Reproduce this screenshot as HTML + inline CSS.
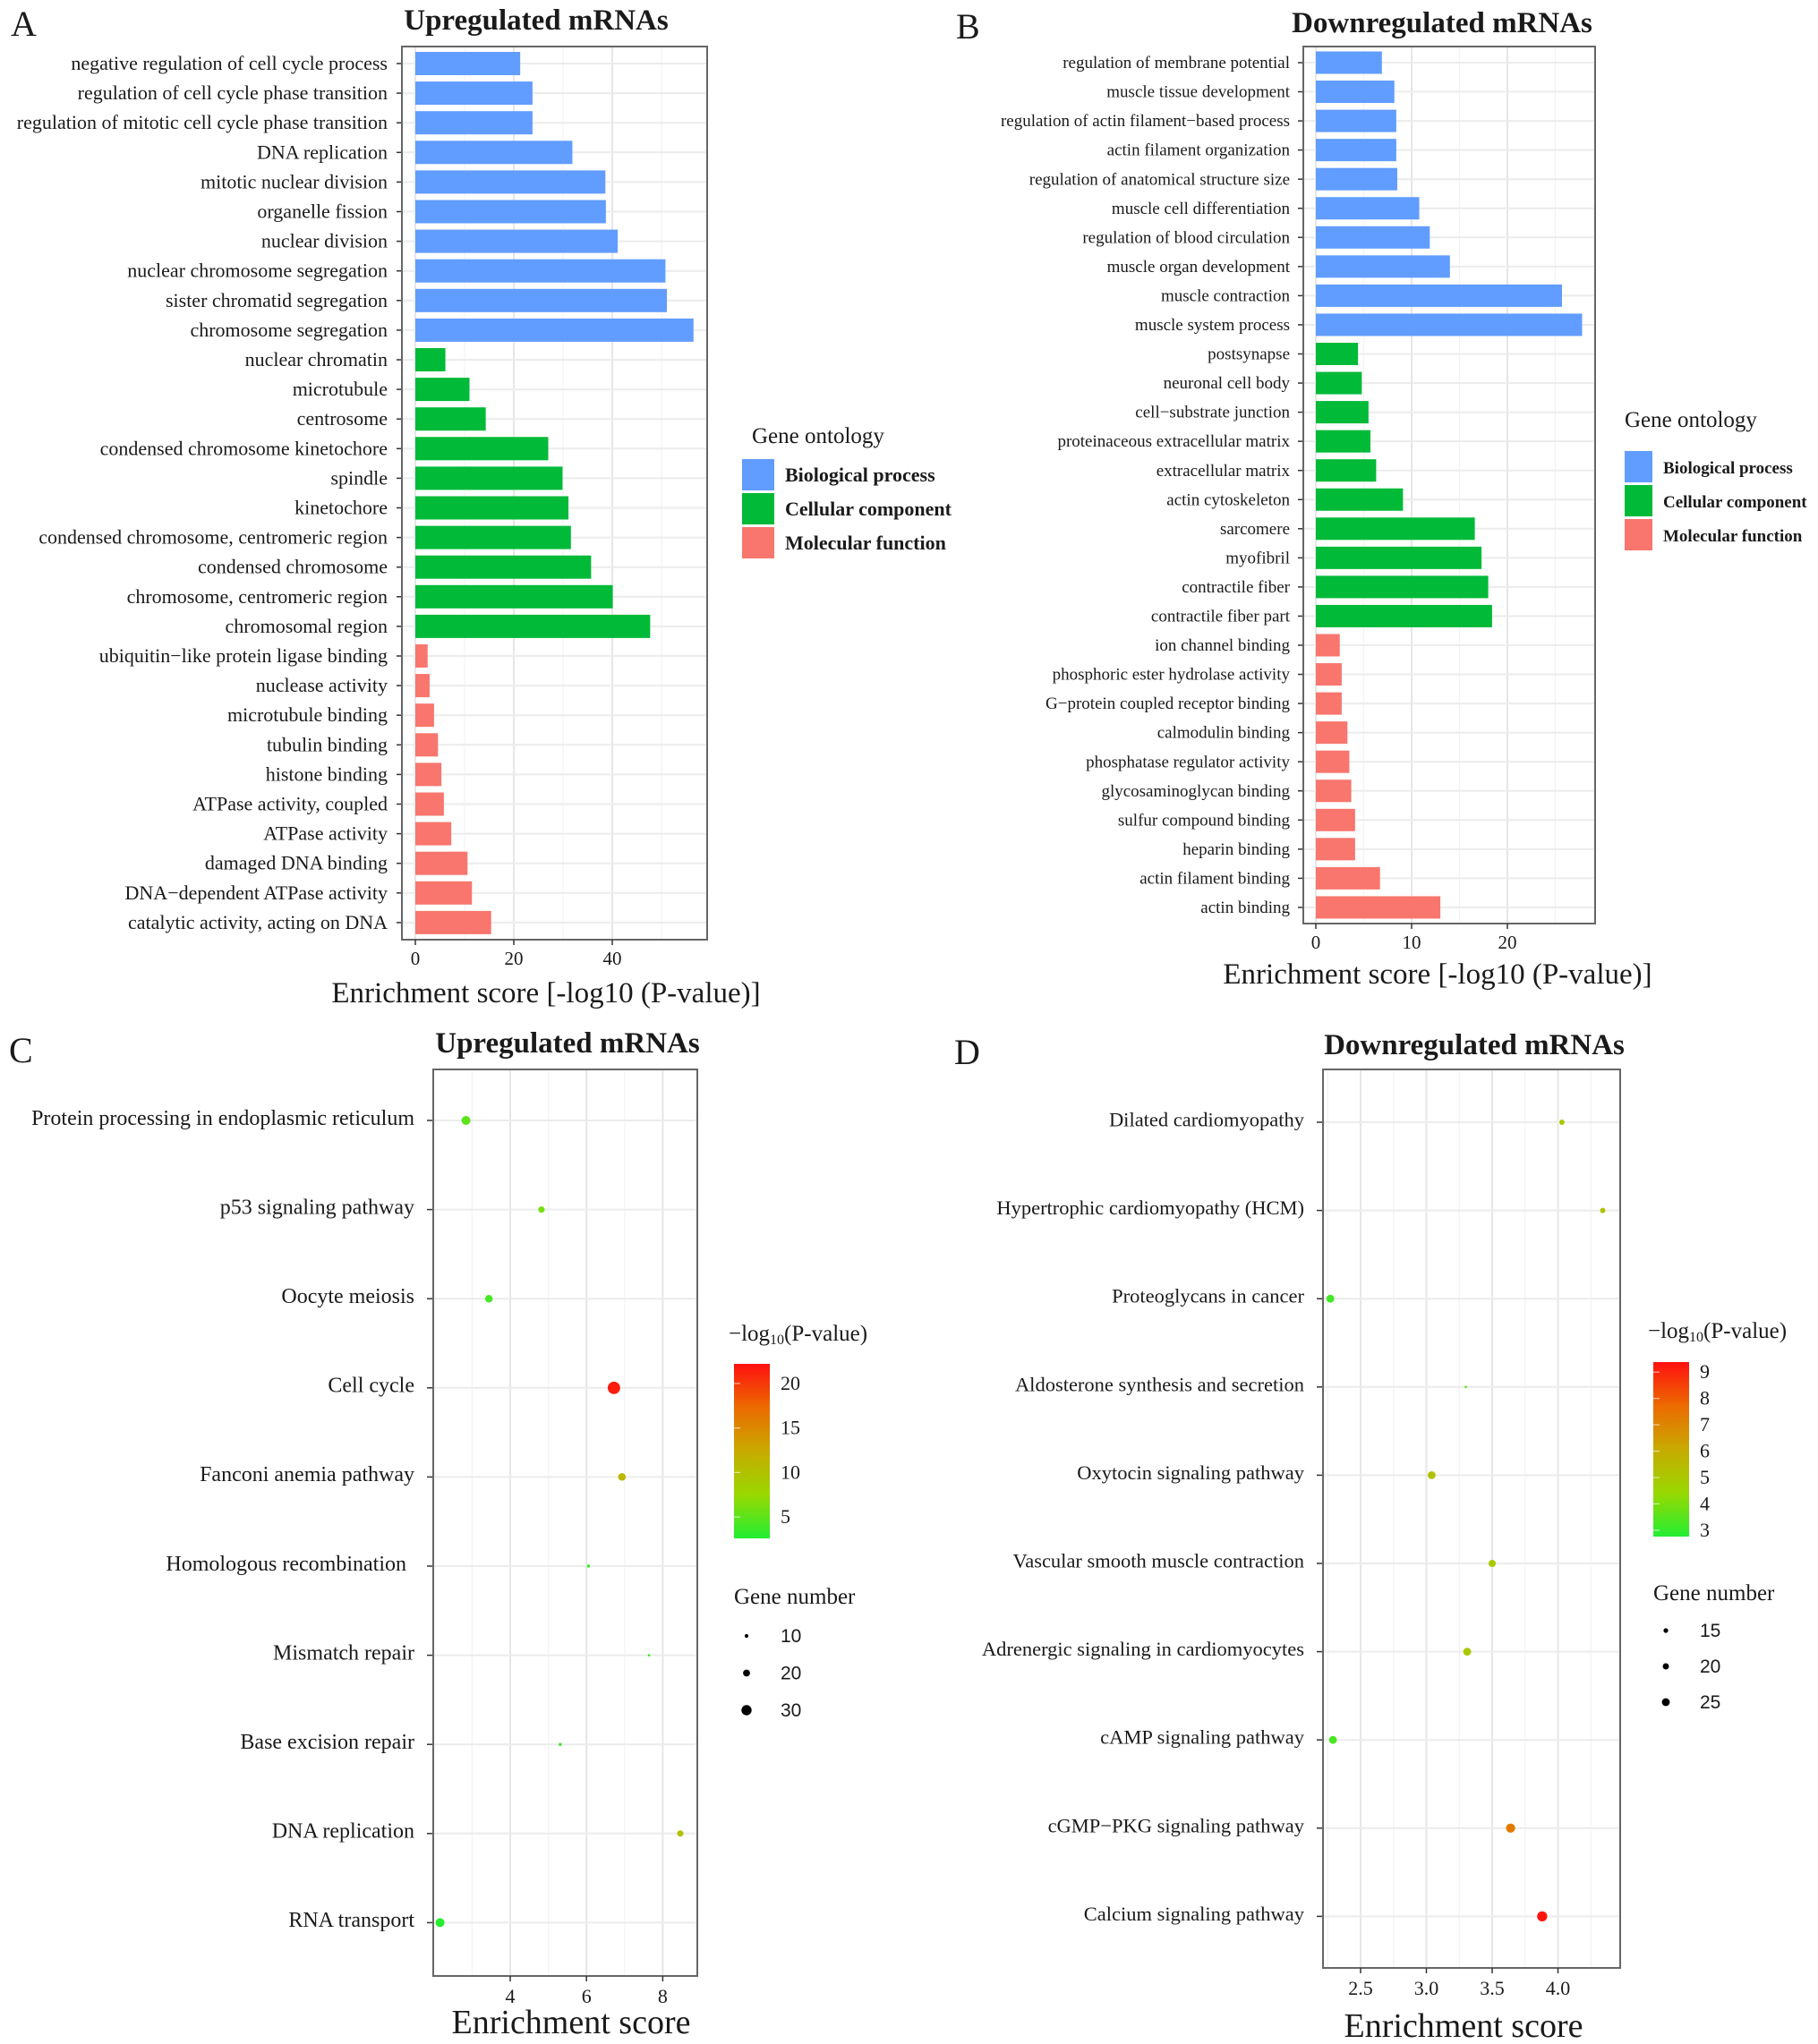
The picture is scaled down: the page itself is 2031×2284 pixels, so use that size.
<!DOCTYPE html>
<html><head><meta charset="utf-8"><style>
html,body{margin:0;padding:0;background:#fff;}
svg{display:block;}
text{font-family:"Liberation Serif",serif;fill:#1a1a1a;}
.sans{font-family:"Liberation Sans",sans-serif;}
</style></head><body>
<svg id="fig" xmlns="http://www.w3.org/2000/svg" width="2031" height="2284" viewBox="0 0 2031 2284">
<rect x="0" y="0" width="2031" height="2284" fill="#fff"/>
<defs>
<linearGradient id="cgrad" x1="0" y1="1" x2="0" y2="0">
<stop offset="0" stop-color="#22ee33"/><stop offset="0.25" stop-color="#99d800"/>
<stop offset="0.5" stop-color="#c8aa00"/><stop offset="0.75" stop-color="#ec6a00"/>
<stop offset="1" stop-color="#ff1010"/>
</linearGradient>
</defs>
<g id="root"></g>
</svg>
<script>
// ---------- Panel A data ----------
const aCategories = ["negative regulation of cell cycle process","regulation of cell cycle phase transition","regulation of mitotic cell cycle phase transition","DNA replication","mitotic nuclear division","organelle fission","nuclear division","nuclear chromosome segregation","sister chromatid segregation","chromosome segregation","nuclear chromatin","microtubule","centrosome","condensed chromosome kinetochore","spindle","kinetochore","condensed chromosome, centromeric region","condensed chromosome","chromosome, centromeric region","chromosomal region","ubiquitin\u2212like protein ligase binding","nuclease activity","microtubule binding","tubulin binding","histone binding","ATPase activity, coupled","ATPase activity","damaged DNA binding","DNA\u2212dependent ATPase activity","catalytic activity, acting on DNA"];
const aValues = [21.3,23.8,23.8,31.9,38.6,38.7,41.1,50.8,51.1,56.5,6.1,11,14.3,27,29.9,31.1,31.6,35.7,40.1,47.7,2.5,2.9,3.8,4.6,5.3,5.8,7.3,10.6,11.5,15.4];
const aGroups = ["BP","BP","BP","BP","BP","BP","BP","BP","BP","BP","CC","CC","CC","CC","CC","CC","CC","CC","CC","CC","MF","MF","MF","MF","MF","MF","MF","MF","MF","MF"];
const aTicks = [0,20,40];
const aMinor = [10,30,50];
// ---------- Panel B data ----------
const bCategories = ["regulation of membrane potential","muscle tissue development","regulation of actin filament\u2212based process","actin filament organization","regulation of anatomical structure size","muscle cell differentiation","regulation of blood circulation","muscle organ development","muscle contraction","muscle system process","postsynapse","neuronal cell body","cell\u2212substrate junction","proteinaceous extracellular matrix","extracellular matrix","actin cytoskeleton","sarcomere","myofibril","contractile fiber","contractile fiber part","ion channel binding","phosphoric ester hydrolase activity","G\u2212protein coupled receptor binding","calmodulin binding","phosphatase regulator activity","glycosaminoglycan binding","sulfur compound binding","heparin binding","actin filament binding","actin binding"];
const bValues = [6.9,8.2,8.4,8.4,8.5,10.8,11.9,14.0,25.7,27.8,4.4,4.8,5.5,5.7,6.3,9.1,16.6,17.3,18.0,18.4,2.5,2.7,2.7,3.3,3.5,3.7,4.1,4.1,6.7,13.0];
const bGroups = aGroups.slice();
const bTicks = [0,10,20];
const bMinor = [5,15,25];
// ---------- Panel C data ----------
const cPathways = ["Protein processing in endoplasmic reticulum","p53 signaling pathway","Oocyte meiosis","Cell cycle","Fanconi anemia pathway","Homologous recombination","Mismatch repair","Base excision repair","DNA replication","RNA transport"];
const cScores = [2.84,4.82,3.44,6.72,6.93,6.05,7.64,5.31,8.46,2.16];
const cPvals = [5,6,4,21.5,11,3.5,4,3.5,10,2.8];
const cGenes = [26,18,22,37,22,8,6,8,18,26];
const cTicks = [4,6,8];
const cMinor = [3,5,7];
const cColorTicks = [5,10,15,20];
const cSizeLegend = [10,20,30];
// ---------- Panel D data ----------
const dPathways = ["Dilated cardiomyopathy","Hypertrophic cardiomyopathy (HCM)","Proteoglycans in cancer","Aldosterone synthesis and secretion","Oxytocin signaling pathway","Vascular smooth muscle contraction","Adrenergic signaling in cardiomyocytes","cAMP signaling pathway","cGMP\u2212PKG signaling pathway","Calcium signaling pathway"];
const dScores = [4.03,4.34,2.27,3.30,3.04,3.50,3.31,2.29,3.64,3.88];
const dPvals = [5,5.2,3.2,3.5,5.2,5,5,3.3,7.3,9.3];
const dGenes = [17,17,25,8,25,23,25,25,29,32];
const dTicks = [2.5,3.0,3.5,4.0];
const dMinor = [2.25,2.75,3.25,3.75,4.25];
const dColorTicks = [3,4,5,6,7,8,9];
const dSizeLegend = [15,20,25];

const NS = "http://www.w3.org/2000/svg";
const root = document.getElementById("root");
function mk(tag, attrs, parent, txt){
  const e = document.createElementNS(NS, tag);
  for (const k in attrs) e.setAttribute(k, attrs[k]);
  if (txt !== undefined) e.textContent = txt;
  (parent||root).appendChild(e);
  return e;
}
const groupColor = {BP:"#619CFF", CC:"#00BA38", MF:"#F8766D"};

function colorAt(t){
  const stops=[[0,[34,238,51]],[0.25,[153,216,0]],[0.5,[200,170,0]],[0.75,[236,106,0]],[1,[255,16,16]]];
  t=Math.max(0,Math.min(1,t));
  for(let i=1;i<stops.length;i++){ if(t<=stops[i][0]){const a=stops[i-1],b=stops[i];const f=(t-a[0])/(b[0]-a[0]);
    return "rgb("+a[1].map((v,j)=>Math.round(v+(b[1][j]-v)*f)).join(",")+")";}}
  return "rgb(255,16,16)";
}

function barPanel(p, cats, vals, groups, ticks, minor){
  const g = mk("g",{});
  
  
  const x = v => p.x0 + v*p.ppu;
  const y = i => p.rowFirst + i*p.step;
  minor.forEach(v=>{ if(x(v)<p.R){ const l=mk("line",{x1:x(v),x2:x(v),y1:p.T,y2:p.B,stroke:"#f3f3f3","stroke-width":1.2},g);
     }});
  ticks.forEach(v=>{ const l=mk("line",{x1:x(v),x2:x(v),y1:p.T,y2:p.B,stroke:"#e6e6e6","stroke-width":2},g);
     });
  cats.forEach((c,i)=>{ const l=mk("line",{x1:p.L,x2:p.R,y1:y(i),y2:y(i),stroke:"#ececec","stroke-width":2},g);
     });
  cats.forEach((c,i)=>{
    const r=mk("rect",{x:x(0),y:y(i)-p.barH/2,width:Math.max(0,x(vals[i])-x(0)),height:p.barH,fill:groupColor[groups[i]]},g);
    
    
    const t=mk("text",{x:p.labelRight,y:y(i)+p.fs*0.32,"text-anchor":"end","font-size":p.fs},g,c);
     
    const tk=mk("line",{x1:p.L-6,x2:p.L,y1:y(i),y2:y(i),stroke:"#333","stroke-width":1.5},g);
     
  });
  const fr=mk("rect",{x:p.L,y:p.T,width:p.R-p.L,height:p.B-p.T,fill:"none",stroke:"#666","stroke-width":2},g);
   
  ticks.forEach(v=>{
    const tk=mk("line",{x1:x(v),x2:x(v),y1:p.B,y2:p.B+6,stroke:"#333","stroke-width":1.5},g);
     
    const t=mk("text",{x:x(v),y:p.B+28,"text-anchor":"middle","font-size":21,fill:"#333"},g,String(v));
     
  });
  const tt=mk("text",{x:p.titleX,y:p.titleY,"text-anchor":"middle","font-size":33,"font-weight":"bold"},g,p.title);
   
  const xt=mk("text",{x:p.axX,y:p.axY,"text-anchor":"middle","font-size":33},g,"Enrichment score [-log10 (P-value)]");
   
  const pl=mk("text",{x:p.letterX,y:p.letterY,"font-size":40},g,p.letter);
   
  const lt=mk("text",{x:p.legX,y:p.legY,"font-size":25},g,"Gene  ontology");
   
  [["BP","Biological process"],["CC","Cellular component"],["MF","Molecular function"]].forEach((e,k)=>{
    const ky=p.keyY+k*p.keyStep;
    const kr=mk("rect",{x:p.keyX,y:ky,width:p.keyW,height:p.keyStep-3,fill:groupColor[e[0]]},g);
     
    const kt=mk("text",{x:p.keyX+p.keyW+12,y:ky+p.keyStep/2+6,"font-size":p.legFs,"font-weight":"bold"},g,e[1]);
     
  });
}

function dotPanel(p, names, scores, pvals, genes, ticks, minor, cticks, sizes){
  const g = mk("g",{});
  
  
  const x = v => p.xRef + (v-p.vRef)*p.ppu;
  const y = i => p.rowFirst + i*p.step;
  const r = n => p.rA + p.rB*n;
  const col = v => colorAt((v-p.cMin)/(p.cMax-p.cMin));
  minor.forEach(v=>{ if(x(v)>p.L && x(v)<p.R){ const l=mk("line",{x1:x(v),x2:x(v),y1:p.T,y2:p.B,stroke:"#f3f3f3","stroke-width":1.2},g);
     }});
  ticks.forEach(v=>{ const l=mk("line",{x1:x(v),x2:x(v),y1:p.T,y2:p.B,stroke:"#e6e6e6","stroke-width":2},g);
     });
  names.forEach((c,i)=>{
    const l=mk("line",{x1:p.L,x2:p.R,y1:y(i),y2:y(i),stroke:"#ececec","stroke-width":2},g);
     
  });
  names.forEach((c,i)=>{
    const d=mk("circle",{cx:x(scores[i]),cy:y(i),r:r(genes[i]),fill:col(pvals[i])},g);
    
    
    const lx = p.labelRight - ((p.shiftRow===i)?9:0);
    const t=mk("text",{x:lx,y:y(i)+p.fs*0.2,"text-anchor":"end","font-size":p.fs},g,c);
     
    const tk=mk("line",{x1:p.L-7,x2:p.L,y1:y(i),y2:y(i),stroke:"#333","stroke-width":1.5},g);
     
  });
  const fr=mk("rect",{x:p.L,y:p.T,width:p.R-p.L,height:p.B-p.T,fill:"none",stroke:"#666","stroke-width":2},g);
   
  ticks.forEach(v=>{
    const tk=mk("line",{x1:x(v),x2:x(v),y1:p.B,y2:p.B+6,stroke:"#333","stroke-width":1.5},g);
     
    const t=mk("text",{x:x(v),y:p.B+30,"text-anchor":"middle","font-size":22,fill:"#333"},g,p.fmt(v));
     
  });
  const tt=mk("text",{x:p.titleX,y:p.titleY,"text-anchor":"middle","font-size":33,"font-weight":"bold"},g,p.title);
   
  const xt=mk("text",{x:p.axX,y:p.axY,"text-anchor":"middle","font-size":38},g,"Enrichment score");
   
  const pl=mk("text",{x:p.letterX,y:p.letterY,"font-size":40},g,p.letter);
   
  const ct=mk("text",{x:p.cbX-6,y:p.legTitleY,"font-size":25},g);
   
  ct.innerHTML='\u2212log<tspan font-size="16" dy="4">10</tspan><tspan dy="-4">(P-value)</tspan>';
  const cb=mk("rect",{x:p.cbX,y:p.cbT,width:40,height:p.cbB-p.cbT,fill:"url(#cgrad)"},g);
   
  const cy = v => p.cbB - (v-p.cMin)/(p.cMax-p.cMin)*(p.cbB-p.cbT);
  cticks.forEach(v=>{
    const t=mk("text",{x:p.cbX+52,y:cy(v)+7,"font-size":22},g,String(v));
     
    const l1=mk("line",{x1:p.cbX,x2:p.cbX+7,y1:cy(v),y2:cy(v),stroke:"#fff","stroke-width":1.2,opacity:0.6},g);
     
  });
  const gt=mk("text",{x:p.cbX,y:p.gnTitleY,"font-size":25},g,"Gene number");
   
  sizes.forEach((n,k)=>{
    const yy=p.gnFirst+k*p.gnStep;
    const c=mk("circle",{cx:p.cbX+14,cy:yy,r:r(n),fill:"#000"},g);
     
    const t=mk("text",{x:p.cbX+52,y:yy+7,"font-size":21,"class":"sans"},g,String(n));
     
  });
}

barPanel({name:"panel-a-upregulated-go",L:449,R:790,T:52,B:1050,x0:464,ppu:5.5,rowFirst:71,step:33.1,barH:26,
  labelRight:433,fs:22,title:"Upregulated mRNAs",titleX:599,titleY:33,axX:610,axY:1120,letter:"A",letterX:12,letterY:40,
  legX:840,legY:495,keyX:829,keyY:513,keyStep:38,keyW:36,legFs:22}, aCategories,aValues,aGroups,aTicks,aMinor);
barPanel({name:"panel-b-downregulated-go",L:1456,R:1782,T:52,B:1032,x0:1470,ppu:10.7,rowFirst:70,step:32.55,barH:25,
  labelRight:1441,fs:19,title:"Downregulated mRNAs",titleX:1611,titleY:36,axX:1606,axY:1099,letter:"B",letterX:1068,letterY:43,
  legX:1815,legY:477,keyX:1815,keyY:504,keyStep:38,keyW:31,legFs:19}, bCategories,bValues,bGroups,bTicks,bMinor);
dotPanel({name:"panel-c-upregulated-kegg",L:484,R:779,T:1195,B:2208,xRef:570,vRef:4,ppu:42.6,rowFirst:1252,step:99.6,
  labelRight:463,fs:24,rA:0.3,rB:0.18,cMin:2.6,cMax:22.2,title:"Upregulated mRNAs",titleX:634,titleY:1176,axX:638,axY:2272,
  letter:"C",letterX:10,letterY:1187,fmt:v=>String(v),cbX:820,cbT:1524,cbB:1719,legTitleY:1498,gnTitleY:1792,gnFirst:1828,gnStep:41.5,shiftRow:5},
  cPathways,cScores,cPvals,cGenes,cTicks,cMinor,cColorTicks,cSizeLegend);
dotPanel({name:"panel-d-downregulated-kegg",L:1478,R:1810,T:1195,B:2199,xRef:1520,vRef:2.5,ppu:147,rowFirst:1254,step:98.6,
  labelRight:1457,fs:22.5,rA:-0.1,rB:0.18,cMin:2.76,cMax:9.38,title:"Downregulated mRNAs",titleX:1647,titleY:1178,axX:1635,axY:2276,
  letter:"D",letterX:1066,letterY:1189,fmt:v=>v.toFixed(1),cbX:1847,cbT:1522,cbB:1717,legTitleY:1495,gnTitleY:1788,gnFirst:1822,gnStep:40,shiftRow:-1},
  dPathways,dScores,dPvals,dGenes,dTicks,dMinor,dColorTicks,dSizeLegend);
</script>
</body></html>
